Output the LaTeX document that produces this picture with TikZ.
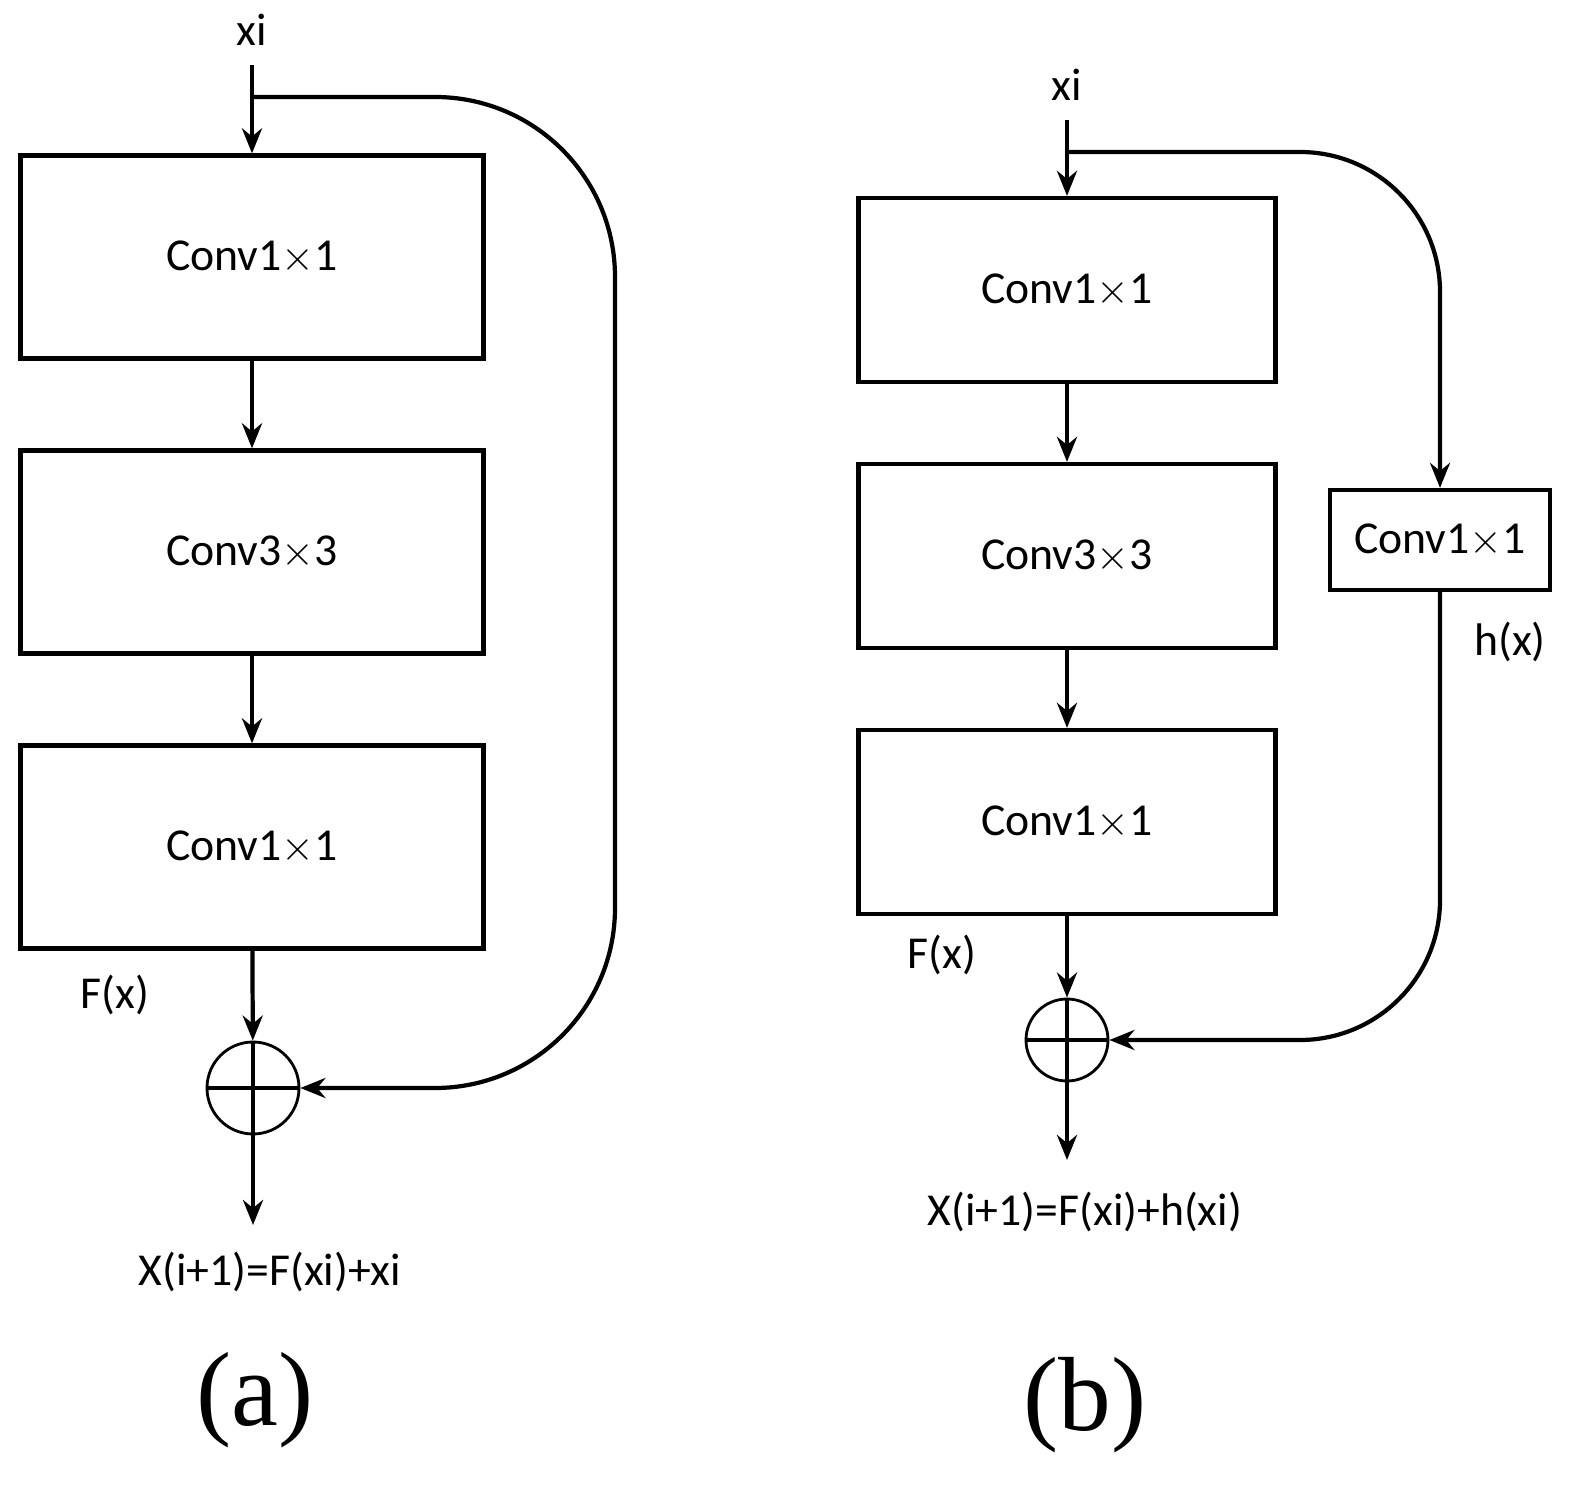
\documentclass[tikz,border=0pt]{standalone}
\usepackage{fontspec}
\setmainfont{Carlito}
\newfontfamily\capfont{Liberation Serif}
\usetikzlibrary{positioning,arrows.meta,calc}
\begin{document}
\begin{tikzpicture}[
    % boxes of the blocks
    conv_box/.style={draw, line width=1.2pt, minimum width=4.63cm, minimum height=2.03cm, font=\fontsize{13}{15}\selectfont},
    conv_box_b/.style={conv_box, minimum width=4.17cm, minimum height=1.84cm},
    % plain labels
    txt/.style={font=\fontsize{13}{15}\selectfont},
    % arrows
    arrow_tip/.style={line width=1.2pt, -{Stealth[length=2.5mm, width=2mm]}},
    line_style/.style={line width=1.2pt},
    sum_style/.style={draw, circle, line width=0.8pt, inner sep=0pt}
]
    \useasboundingbox (0,0) rectangle (15.79,-14.99);

    % (a) plain residual block
    \node[txt] (xa) at (2.52,-0.30) {xi};
    \coordinate (ina) at (2.52,-0.65);
    \node[conv_box] (a1) at (2.52,-2.57) {Conv1$\times$1};
    \node[conv_box] (a2) at (2.52,-5.52) {Conv3$\times$3};
    \node[conv_box] (a3) at (2.52,-8.47) {Conv1$\times$1};
    \node[sum_style, minimum size=0.92cm] (suma) at (2.53,-10.88) {};
    \draw[line_style] (suma.north) -- (suma.south) (suma.west) -- (suma.east);
    \node[txt] (fa) at (1.15,-9.95) {F(x)};
    \coordinate (outa) at (2.53,-12.25);
    \node[txt] (resa) at (2.7,-12.72) {X(i+1)=F(xi)+xi};
    \node[font=\capfont\fontsize{30}{34}\selectfont] (capa) at (2.55,-14.0) {(a)};

    \draw[arrow_tip] (ina) -- (a1);
    \draw[arrow_tip] (a1) -- (a2);
    \draw[arrow_tip] (a2) -- (a3);
    \draw[arrow_tip] (a3) -- (suma);
    \draw[arrow_tip] (suma) -- (outa);
    \coordinate (ska) at (2.52,-0.97);
    \coordinate (benda) at (6.15,-5);
    \draw[arrow_tip, rounded corners=1.8cm] (ska) -| (benda) |- (suma.east);

    % (b) block with projection shortcut
    \node[txt] (xb) at (10.67,-0.85) {xi};
    \coordinate (inb) at (10.67,-1.2);
    \node[conv_box_b] (b1) at (10.67,-2.9) {Conv1$\times$1};
    \node[conv_box_b] (b2) at (10.67,-5.56) {Conv3$\times$3};
    \node[conv_box_b] (b3) at (10.67,-8.22) {Conv1$\times$1};
    \node[conv_box, minimum width=2.2cm, minimum height=1cm] (bs) at (14.4,-5.4) {Conv1$\times$1};
    \node[sum_style, minimum size=0.82cm] (sumb) at (10.67,-10.4) {};
    \draw[line_style] (sumb.north) -- (sumb.south) (sumb.west) -- (sumb.east);
    \node[txt] (fb) at (9.42,-9.55) {F(x)};
    \node[txt] (hb) at (15.1,-6.42) {h(x)};
    \coordinate (outb) at (10.67,-11.6);
    \node[txt] (resb) at (10.85,-12.12) {X(i+1)=F(xi)+h(xi)};
    \node[font=\capfont\fontsize{30}{34}\selectfont] (capb) at (10.85,-14.05) {(b)};

    \draw[arrow_tip] (inb) -- (b1);
    \draw[arrow_tip] (b1) -- (b2);
    \draw[arrow_tip] (b2) -- (b3);
    \draw[arrow_tip] (b3) -- (sumb);
    \draw[arrow_tip] (sumb) -- (outb);
    \coordinate (skb) at (10.67,-1.52);
    \draw[arrow_tip, rounded corners=1.4cm] (skb) -| (bs.north);
    \draw[arrow_tip, rounded corners=1.4cm] (bs.south) |- (sumb.east);
\end{tikzpicture}
\end{document}
